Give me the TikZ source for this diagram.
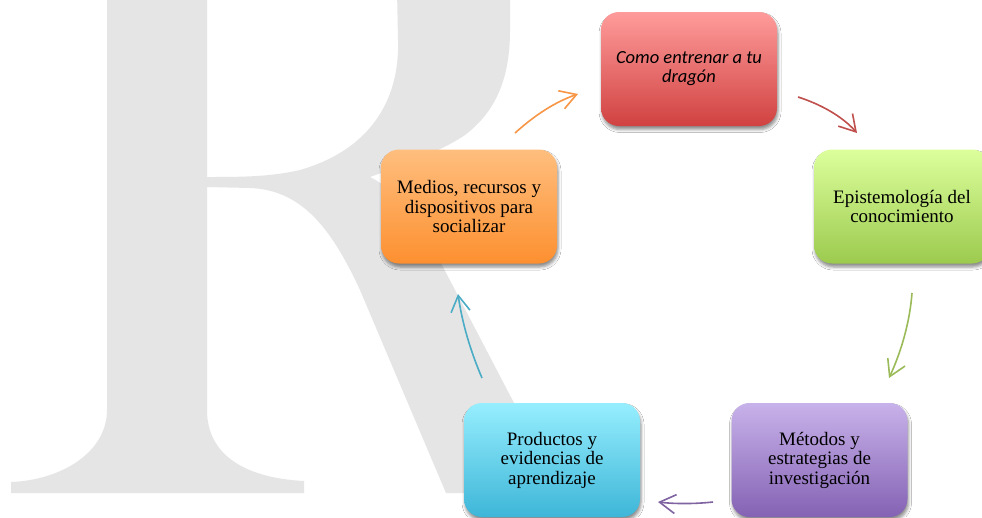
\documentclass[tikz,border=0pt]{standalone}
\usepackage{fontspec}
\setmainfont{Liberation Serif}
\newfontfamily\carlito{Carlito}
\usetikzlibrary{arrows.meta,shadows.blur}
\definecolor{marca}{RGB}{229,229,229}
\definecolor{rojoA}{RGB}{254,156,155}
\definecolor{rojoB}{RGB}{208,66,65}
\definecolor{verdeA}{RGB}{220,255,156}
\definecolor{verdeB}{RGB}{156,202,78}
\definecolor{moradoA}{RGB}{200,178,234}
\definecolor{moradoB}{RGB}{132,98,180}
\definecolor{azulA}{RGB}{150,238,254}
\definecolor{azulB}{RGB}{62,182,216}
\definecolor{naranjaA}{RGB}{254,190,126}
\definecolor{naranjaB}{RGB}{253,144,48}
\definecolor{flechaRoja}{RGB}{192,80,77}
\definecolor{flechaVerde}{RGB}{155,187,89}
\definecolor{flechaMorada}{RGB}{128,100,162}
\definecolor{flechaAzul}{RGB}{75,172,198}
\definecolor{flechaNaranja}{RGB}{247,150,70}
\tikzset{
	etapa/.style={rounded corners=18pt, minimum width=176pt, minimum height=114pt,
		align=center, inner sep=2pt, font=\fontsize{19}{19.5}\selectfont,
		blur shadow={shadow xshift=1pt, shadow yshift=-3.5pt, shadow blur radius=3pt, shadow opacity=45}},
	flecha/.style={line width=1.6pt, -{Straight Barb[length=16pt,width=19pt]}}
}
\begin{document}
\begin{tikzpicture}[x=1pt,y=-1pt]
		\useasboundingbox [fill=white](0,0) rectangle (982,517);
		\fill [marca](107,-10)--(107,410) .. controls (107,452) and (62,480) .. (11,482)--(11,493)--(304,493)--(304,481) .. controls (245,478) and (207,455) .. (207,410)--(207,187)--(250,188) .. controls (300,190) and (330,225) .. (360,290)--(446,493)--(561,493)--(514,403)--(443,267) .. controls (420,225) and (400,192) .. (370,177) .. controls (400,166) and (440,152) .. (465,135) .. controls (495,112) and (510,80) .. (510,30)--(510,-10)--(397,-10)--(398,40) .. controls (400,100) and (370,150) .. (300,170) .. controls (270,177) and (240,177) .. (207,177)--(207,-10)--cycle;
		
		\node [etapa, top color=rojoA, bottom color=rojoB, font=\carlito\itshape\fontsize{18.5}{19}\selectfont](como) at (689,69) {Como entrenar a tu\\dragón};
		\node [etapa, top color=verdeA, bottom color=verdeB](episte) at (902,206.5) {Epistemología del\\conocimiento};
		\node [etapa, top color=moradoA, bottom color=moradoB](metodos) at (819.5,460) {Métodos y\\estrategias de\\investigación};
		\node [etapa, top color=azulA, bottom color=azulB](productos) at (552,460) {Productos y\\evidencias de\\aprendizaje};
		\node [etapa, top color=naranjaA, bottom color=naranjaB](medios) at (469,206.5) {Medios, recursos y\\dispositivos para\\socializar};
		
		\coordinate (n1) at (515,133);
		\coordinate (n2) at (578,94);
		\coordinate (r1) at (798,97);
		\coordinate (r2) at (857,133);
		\coordinate (v1) at (912,293);
		\coordinate (v2) at (889,378);
		\coordinate (m1) at (713,502);
		\coordinate (m2) at (658,502);
		\coordinate (a1) at (482,378);
		\coordinate (a2) at (458,294);
		\draw [flecha, flechaNaranja](n1) .. controls (535,115) and (555,102) .. (n2);
		\draw [flecha, flechaRoja](r1) .. controls (820,104) and (842,116) .. (r2);
		\draw [flecha, flechaVerde](v1) .. controls (910,320) and (902,350) .. (v2);
		\draw [flecha, flechaMorada](m1) .. controls (695,504) and (675,504) .. (m2);
		\draw [flecha, flechaAzul](a1) .. controls (470,350) and (462,322) .. (a2);
		
		\end{tikzpicture}
\end{document}
